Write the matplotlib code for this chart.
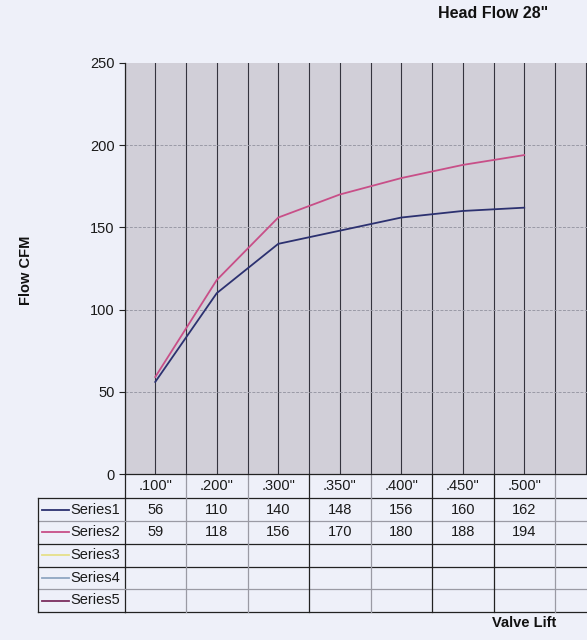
import matplotlib
matplotlib.use("Agg")
import matplotlib.pyplot as plt
from matplotlib.lines import Line2D
from matplotlib.transforms import blended_transform_factory
import numpy as np

plt.rcParams['font.family'] = ['Liberation Sans', 'DejaVu Sans']

# ---- data ----
categories = ['.100"', '.200"', '.300"', '.350"', '.400"', '.450"', '.500"']
series_names = ['Series1', 'Series2', 'Series3', 'Series4', 'Series5']
series1 = [56, 110, 140, 148, 156, 160, 162]
series2 = [59, 118, 156, 170, 180, 188, 194]
series3 = []
series4 = []
series5 = []
y_ticks = [0, 50, 100, 150, 200, 250]

series_values = [series1, series2, series3, series4, series5]
series_colors = ['#2c3170', '#c84f88', '#e6e08a', '#8fa6c2', '#7a2e5e']

W, H = 587, 640
fig = plt.figure(figsize=(W / 100, H / 100), dpi=100)
fig.patch.set_facecolor('#eef0f9')

def fx(px):
    return px / W

def fy(py):
    return 1 - py / H

ncat_visible = 9  # axis extends past the cropped right edge
cat_w = 61.5
left_px, top_px, bot_px = 124.5, 63, 474
ax = fig.add_axes([fx(left_px), fy(bot_px), ncat_visible * cat_w / W, (bot_px - top_px) / H])
ax.set_facecolor('#d1cfd8')
ax.set_xlim(-0.5, ncat_visible - 0.5)
ax.set_ylim(0, 250)

# vertical grid lines every half category
for xv in np.arange(-0.5, ncat_visible, 0.5):
    ax.axvline(xv, color='#34343e', lw=0.8, zorder=1)
# horizontal grid
for yv in y_ticks[1:-1]:
    ax.axhline(yv, color='#9a9aa6', lw=0.7, ls=(0, (3, 1.5)), zorder=1)

x = np.arange(len(categories))
for vals, col in zip(series_values, series_colors):
    ax.plot(x[:len(vals)], vals, color=col, lw=1.3, zorder=3)

for s in ['top', 'right']:
    ax.spines[s].set_visible(False)
ax.spines['left'].set_color('#222222')
ax.spines['bottom'].set_color('#222222')
ax.spines['left'].set_linewidth(0.9)
ax.spines['bottom'].set_linewidth(0.9)
ax.set_yticks(y_ticks)
ax.set_yticklabels([str(v) for v in y_ticks])
ax.tick_params(axis='y', length=4, width=0.8, color='#222222', labelsize=10.5,
               labelcolor='#1a1a1a', pad=3)
ax.set_xticks([])

# ---- data table ----
tb = blended_transform_factory(ax.transData, fig.transFigure)
dark, light = '#222222', '#9a9aa4'
row_lines_px = [498, 521, 543.5, 566.5, 589, 612]
row_line_cols = [dark, light, dark, dark, light, dark]
table_left_px = 38
for ypx, c in zip(row_lines_px, row_line_cols):
    fig.add_artist(Line2D([fx(table_left_px), fx(left_px)], [fy(ypx)] * 2, color=c, lw=0.9))
    ax.plot([-0.5, ncat_visible - 0.5], [fy(ypx)] * 2, transform=tb, color=c, lw=0.9, clip_on=False)

col_line_cols = [dark, light, light, dark, light, dark, dark, light, dark]
for k, c in enumerate(col_line_cols):
    ax.plot([k - 0.5] * 2, [fy(bot_px), fy(612)], transform=tb, color=c, lw=0.9, clip_on=False)
fig.add_artist(Line2D([fx(table_left_px)] * 2, [fy(498), fy(612)], color=dark, lw=0.9))

header_y = 486.5
for i, cat in enumerate(categories):
    ax.text(i, fy(header_y), cat, transform=tb, ha='center', va='center', fontsize=10.5, color='#1a1a1a')

row_centers = [509.5, 532, 555, 578, 600.5]
for r, (name, vals, col) in enumerate(zip(series_names, series_values, series_colors)):
    yc = fy(row_centers[r])
    fig.add_artist(Line2D([fx(42), fx(69)], [yc, yc], color=col, lw=1.3))
    fig.text(fx(70), yc, name, ha='left', va='center', fontsize=10.5, color='#1a1a1a')
    for i, v in enumerate(vals):
        ax.text(i, yc, str(v), transform=tb, ha='center', va='center', fontsize=10.5, color='#1a1a1a')

# ---- titles ----
fig.text(fx(493), fy(14), 'Head Flow 28"', ha='center', va='center', fontsize=11.5,
         fontweight='bold', color='#111111')
fig.text(fx(26), fy(270), 'Flow CFM', ha='center', va='center', rotation=90, fontsize=10.5,
         fontweight='bold', color='#111111')
fig.text(fx(524), fy(623), 'Valve Lift', ha='center', va='center', fontsize=10.5,
         fontweight='bold', color='#111111')

fig.savefig('out.png', dpi=100, facecolor=fig.get_facecolor())
